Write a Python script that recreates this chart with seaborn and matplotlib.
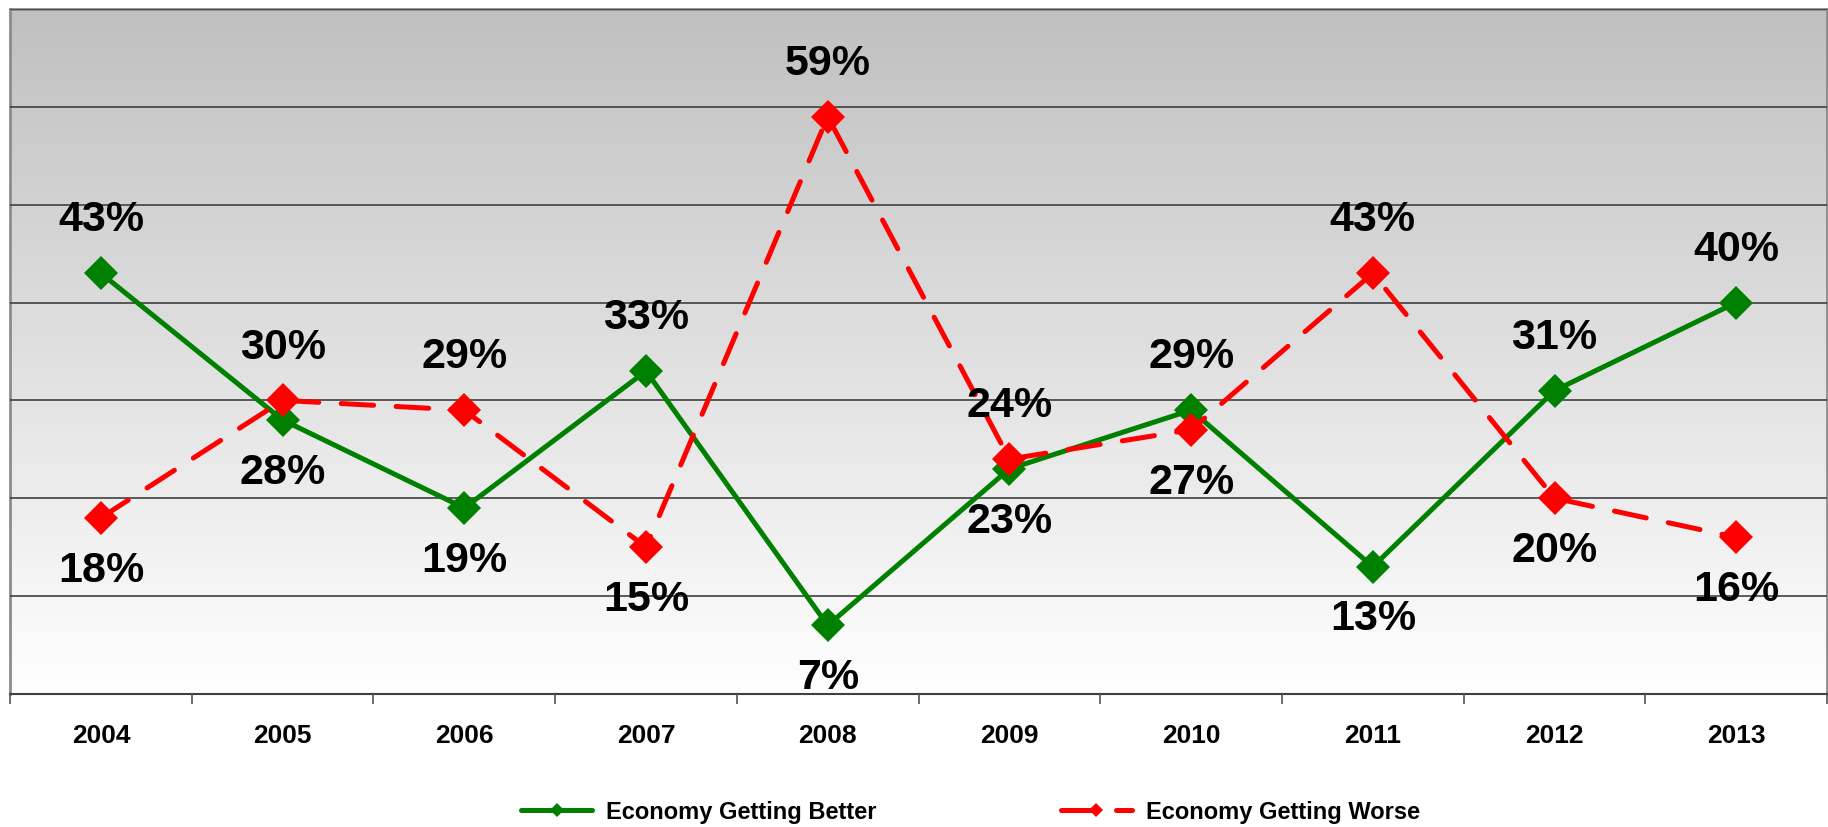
import numpy as np
import pandas as pd
import seaborn as sns
import matplotlib.pyplot as plt
from matplotlib.colors import LinearSegmentedColormap

# values (percent)
years = [2004, 2005, 2006, 2007, 2008, 2009, 2010, 2011, 2012, 2013]
better = [43, 28, 19, 33, 7, 23, 29, 13, 31, 40]
worse = [18, 30, 29, 15, 59, 24, 27, 43, 20, 16]
better_label = "Economy Getting Better"
worse_label = "Economy Getting Worse"

# where each data label sits: 1 = above the point, -1 = below
better_side = [1, -1, -1, 1, -1, -1, 1, -1, 1, 1]
worse_side = [-1, 1, 1, -1, 1, 1, -1, 1, -1, -1]

df = pd.DataFrame({"Year": years, "Better": better, "Worse": worse})

sns.set_style("white")
plt.rcParams["font.family"] = ["Liberation Sans", "DejaVu Sans"]
plt.rcParams["text.color"] = "black"
plt.rcParams["xtick.color"] = "black"

fig = plt.figure(figsize=(18.28, 8.27), dpi=100)
ax = fig.add_axes([0.0055, 0.161, 0.994, 0.828])

# grey-to-white background like the original
grad = np.linspace(1, 0, 256).reshape(-1, 1)
cmap = LinearSegmentedColormap.from_list("bg", ["#ffffff", "#c0c0c0"])
ax.imshow(grad, extent=[2003.5, 2013.5, 0, 70], aspect="auto", cmap=cmap,
          origin="upper", zorder=0)

sns.lineplot(data=df, x="Year", y="Better", ax=ax, color="#008000", lw=3.6,
             marker="D", markersize=17, markeredgewidth=0, label=better_label,
             zorder=3)
sns.lineplot(data=df, x="Year", y="Worse", ax=ax, color="#ff0000", lw=3.6,
             marker="D", markersize=17, markeredgewidth=0, label=worse_label,
             dashes=False, zorder=4)
ax.lines[-1].set_dashes((6.5, 4.5))
ax.lines[-1].set_dash_capstyle("round")

for yr, v, s in zip(years, better, better_side):
    ax.annotate(f"{v}%", (yr, v), xytext=(0, 38 * s), textcoords="offset points",
                ha="center", va="center", fontsize=31, fontweight="bold",
                color="black", zorder=6)
for yr, v, s in zip(years, worse, worse_side):
    ax.annotate(f"{v}%", (yr, v), xytext=(0, 38 * s), textcoords="offset points",
                ha="center", va="center", fontsize=31, fontweight="bold",
                color="black", zorder=6)

ax.set_xlim(2003.5, 2013.5)
ax.set_ylim(0, 70)
ax.set_yticks(range(0, 71, 10))
ax.set_yticklabels([])
ax.tick_params(axis="y", length=0)
ax.grid(axis="y", color="#404040", lw=1.2, zorder=1)
ax.set_axisbelow(False)
for ln in ax.get_ygridlines():
    ln.set_zorder(1)

ax.set_xticks(years)
ax.set_xticklabels([str(y) for y in years], fontsize=19, fontweight="bold",
                   color="black")
ax.set_xticks(np.arange(2003.5, 2014, 1), minor=True)
ax.tick_params(axis="x", which="major", length=0, pad=22)
ax.tick_params(axis="x", which="minor", length=7, width=1.2, color="#555555",
               direction="out", bottom=True)
ax.set_xlabel("")
ax.set_ylabel("")

for side in ["left", "top", "right"]:
    ax.spines[side].set_color("#8c8c8c")
    ax.spines[side].set_linewidth(2)
ax.spines["bottom"].set_color("#404040")
ax.spines["bottom"].set_linewidth(1.5)

leg = ax.legend(loc="center", bbox_to_anchor=(0.531, 0.018),
                bbox_transform=fig.transFigure, ncol=2, frameon=False,
                prop={"size": 17, "weight": "bold"}, handlelength=3.0,
                handletextpad=0.6, columnspacing=7.8, markerscale=0.42)
for t in leg.get_texts():
    t.set_color("black")

fig.savefig("out.png", dpi=100)
